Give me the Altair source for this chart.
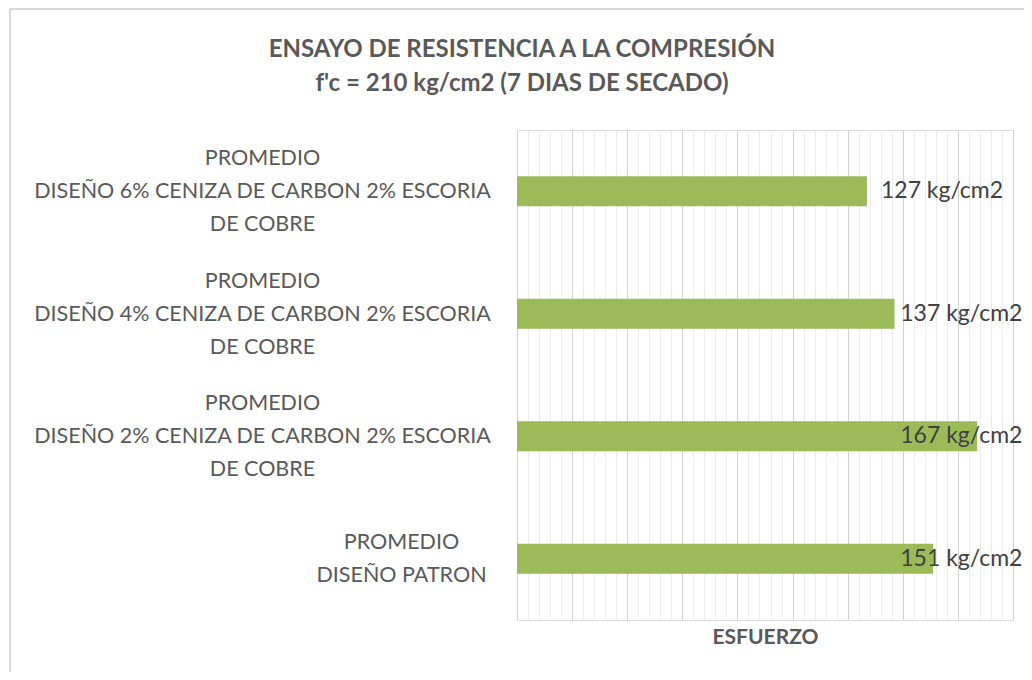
import altair as alt
import pandas as pd

categories = [
    "PROMEDIO|DISEÑO 6% CENIZA DE CARBON 2% ESCORIA|DE COBRE",
    "PROMEDIO|DISEÑO 4% CENIZA DE CARBON 2% ESCORIA|DE COBRE",
    "PROMEDIO|DISEÑO 2% CENIZA DE CARBON 2% ESCORIA|DE COBRE",
    "PROMEDIO|DISEÑO PATRON",
]
values = [127, 137, 167, 151]
unit = " kg/cm2"
title_lines = ["ENSAYO DE RESISTENCIA A LA COMPRESIÓN", "f'c = 210 kg/cm2 (7 DIAS DE SECADO)"]
x_title = "ESFUERZO"

df = pd.DataFrame({"cat": categories, "v": values})

W, H = 496, 490
FONT = "Lato"
BAR = "#9BBB59"
GRAY = "#595959"

grid_values = list(range(0, 181, 4))

x_scale = alt.Scale(domain=[0, 180], nice=False, zero=True)
x_axis = alt.Axis(
    values=grid_values,
    labels=False,
    ticks=False,
    domain=False,
    grid=True,
    gridColor={"condition": {"test": "datum.value % 20 === 0", "value": "#d2d2d2"}, "value": "#ececec"},
    gridWidth=1,
    title=x_title,
    titleFont=FONT,
    titleFontSize=21,
    titleFontWeight="bold",
    titleColor=GRAY,
    titlePadding=6,
)

y_enc = alt.Y(
    "cat:N",
    sort=categories,
    scale=alt.Scale(paddingInner=0.755, paddingOuter=0.3775),
    axis=alt.Axis(
        title=None,
        domain=False,
        ticks=False,
        grid=False,
        labelExpr="split(datum.label, '|')",
        labelAlign="center",
        labelBaseline="middle",
        labelPadding={"condition": {"test": "indexof(datum.label, 'PATRON') >= 0", "value": 116}, "value": 255},
        labelOffset={"condition": {"test": "indexof(datum.label, 'PATRON') >= 0", "value": -16}, "value": -32},
        labelFont=FONT,
        labelFontSize=21.5,
        labelColor=GRAY,
        labelLineHeight=33,
        labelLimit=0,
    ),
)

base = alt.Chart(df)

bars = base.mark_bar(color=BAR).encode(
    x=alt.X("v:Q", scale=x_scale, axis=x_axis),
    y=y_enc,
)

labels = base.transform_calculate(
    lx="min(datum.v, 134)", lab="datum.v + '" + unit + "'"
).mark_text(
    align="left", baseline="middle", dx=14, font=FONT, fontSize=23, color="#404040"
).encode(
    x=alt.X("lx:Q", scale=x_scale, axis=x_axis),
    y=y_enc,
    text="lab:N",
)

frame_df = pd.DataFrame({"k": [0]})
frame_top = alt.Chart(frame_df).mark_rule(color="#d9d9d9", strokeWidth=2).encode(
    x=alt.value(-507), x2=alt.value(W + 60), y=alt.value(-121)
)
frame_left = alt.Chart(frame_df).mark_rule(color="#d9d9d9", strokeWidth=2).encode(
    x=alt.value(-507), y=alt.value(-121), y2=alt.value(H + 80)
)

chart = alt.layer(frame_top, frame_left, bars, labels).properties(
    width=W,
    height=H,
    autosize=alt.AutoSizeParams(type="none"),
    padding={"left": 509, "top": 122, "right": 11, "bottom": 52},
    title=alt.TitleParams(
        text=title_lines,
        anchor="middle",
        baseline="bottom",
        dx=-243,
        offset=-112,
        font=FONT,
        fontSize=24,
        fontWeight="bold",
        color=GRAY,
        lineHeight=34,
    ),
).configure_view(strokeWidth=0).configure(background="white")

chart.save("out.html", embed_options={"renderer": "svg", "actions": False})
